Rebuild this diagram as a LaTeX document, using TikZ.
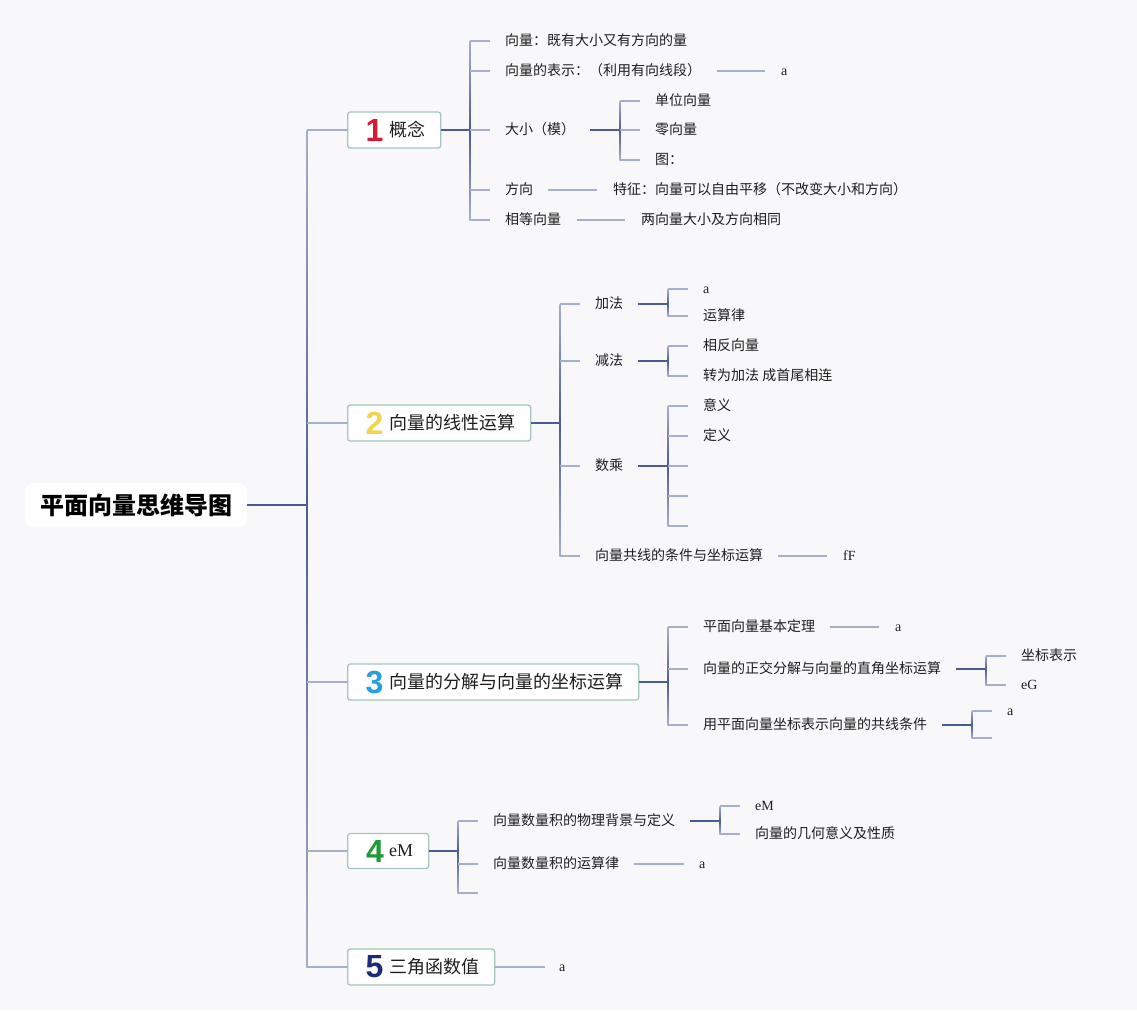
\documentclass[tikz,border=0pt]{standalone}
\usepackage{fontspec}
\setmainfont{Noto Sans CJK SC}
\newfontfamily\latf{Liberation Serif}
\newfontfamily\numf{Liberation Sans}
\definecolor{bgc}{HTML}{F8F8FA}
\definecolor{txt}{HTML}{1E1E1E}
\definecolor{lc}{HTML}{A6AECD}
\definecolor{dc}{HTML}{4B5B95}
\definecolor{bx}{HTML}{A4C6BD}
\definecolor{n1}{HTML}{D51B36}
\definecolor{n2}{HTML}{F2D34E}
\definecolor{n3}{HTML}{2A9FDC}
\definecolor{n4}{HTML}{1F9A36}
\definecolor{n5}{HTML}{1C2A7C}
\newcommand\vgrad[4]{%
  \shade[top color=lc,bottom color=dc] (#1-0.7,#2) rectangle (#1+0.7,#3);
  \shade[top color=dc,bottom color=lc] (#1-0.7,#3) rectangle (#1+0.7,#4);}
\tikzset{
  leaf/.style={anchor=west, inner sep=0pt, text=txt, text height=11pt, text depth=2.5pt,
    font=\fontsize{14}{16}\selectfont},
  lleaf/.style={leaf, font=\latf\fontsize{14}{16}\selectfont},
  topic/.style={draw=bx, fill=white, rounded corners=2.5pt, line width=1.3pt,
    anchor=west, minimum height=36pt, inner sep=0pt},
  tlabel/.style={anchor=west, inner sep=0pt, text=txt, font=\fontsize{18}{20}\selectfont},
  num/.style={inner sep=0pt, font=\numf\bfseries\fontsize{32}{32}\selectfont},
  lt/.style={draw=lc, line width=1.4pt},
  dk/.style={draw=dc, line width=1.6pt},
}
\begin{document}
\begin{tikzpicture}[x=1pt,y=-1pt]
\fill[bgc] (0,0) rectangle (1137,1010);
\useasboundingbox (0,0) rectangle (1137,1010);

% root
\node[fill=white, rounded corners=8pt, minimum width=222pt, minimum height=44pt, inner sep=0pt,
  text=black, font=\bfseries\fontsize{24}{26}\selectfont] (root) at (136,505) {平面向量思维导图};
\coordinate (trunk) at (307,505);
\draw[dk] (root.east) -- (trunk);
\vgrad{307}{130}{505}{967}

% topic boxes
\node[topic, minimum width=93pt]  (t1) at (347,130) {};
\node[topic, minimum width=183pt] (t2) at (347,423) {};
\node[topic, minimum width=291pt] (t3) at (347,682) {};
\node[topic, minimum width=81pt, minimum height=35pt]  (t4) at (347,851) {};
\node[topic, minimum width=147pt] (t5) at (347,967) {};
\node[num, text=n1] (d1) at (374.5,130) {1};
\node[num, text=n2] (d2) at (374.5,423) {2};
\node[num, text=n3] (d3) at (374.5,682) {3};
\node[num, text=n4] (d4) at (375,851) {4};
\node[num, text=n5] (d5) at (374.5,967) {5};
\node[tlabel] (l1) at (389,130) {概念};
\node[tlabel] (l2) at (389,423) {向量的线性运算};
\node[tlabel] (l3) at (389,682) {向量的分解与向量的坐标运算};
\node[tlabel, font=\latf\fontsize{18}{20}\selectfont] (l4) at (389,851) {eM};
\node[tlabel] (l5) at (389,967) {三角函数值};
\foreach \t in {t1,t2,t3,t4,t5} \draw[lt] (trunk |- \t.west) -- (\t.west);

% ---------- section 1
\coordinate (s1) at (470,130);
\draw[dk] (t1.east) -- (s1);
\vgrad{470}{41}{130}{220}
\node[leaf] (a1) at (505,41) {向量：既有大小又有方向的量};
\node[leaf] (a2) at (505,71) {向量的表示：（利用有向线段）};
\node[lleaf] (a2x) at (781,71) {a};
\node[leaf] (a3) at (505,130) {大小（模）};
\node[leaf] (a31) at (655,101) {单位向量};
\node[leaf] (a32) at (655,130) {零向量};
\node[leaf] (a33) at (655,160) {图：};
\node[leaf] (a4) at (505,190) {方向};
\node[leaf] (a4x) at (613,190) {特征：向量可以自由平移（不改变大小和方向）};
\node[leaf] (a5) at (505,220) {相等向量};
\node[leaf] (a5x) at (641,220) {两向量大小及方向相同};
\foreach \c in {a1,a2,a3,a4,a5} \draw[lt] (s1 |- \c.west) -- ([xshift=-15pt]\c.west);
\draw[lt] (717,71) -- ([xshift=-16pt]a2x.west);
\coordinate (s13) at (620,130);
\draw[dk] ([xshift=15pt]a3.east) -- (s13);
\vgrad{620}{101}{130}{160}
\foreach \c in {a31,a32,a33} \draw[lt] (s13 |- \c.west) -- ([xshift=-15pt]\c.west);
\draw[lt] ([xshift=15pt]a4.east) -- ([xshift=-16pt]a4x.west);
\draw[lt] ([xshift=16pt]a5.east) -- ([xshift=-16pt]a5x.west);

% ---------- section 2
\coordinate (s2) at (560,423);
\draw[dk] (t2.east) -- (s2);
\vgrad{560}{304}{423}{556}
\node[leaf] (b1) at (595,304) {加法};
\node[leaf] (b2) at (595,361) {减法};
\node[leaf] (b3) at (595,466) {数乘};
\node[leaf] (b4) at (595,556) {向量共线的条件与坐标运算};
\node[lleaf] (b4x) at (843,556) {fF};
\foreach \c in {b1,b2,b3,b4} \draw[lt] (s2 |- \c.west) -- ([xshift=-15pt]\c.west);
\draw[lt] ([xshift=15pt]b4.east) -- ([xshift=-16pt]b4x.west);
% add
\node[lleaf] (b11) at (703,289) {a};
\node[leaf] (b12) at (703,316) {运算律};
\coordinate (s21) at (668,304);
\draw[dk] ([xshift=15pt]b1.east) -- (s21);
\vgrad{668}{289}{304}{316}
\foreach \c in {b11,b12} \draw[lt] (s21 |- \c.west) -- ([xshift=-15pt]\c.west);
% sub
\node[leaf] (b21) at (703,346) {相反向量};
\node[leaf] (b22) at (703,376) {转为加法 成首尾相连};
\coordinate (s22) at (668,361);
\draw[dk] ([xshift=15pt]b2.east) -- (s22);
\vgrad{668}{346}{361}{376}
\foreach \c in {b21,b22} \draw[lt] (s22 |- \c.west) -- ([xshift=-15pt]\c.west);
% scalar
\node[leaf] (b31) at (703,406) {意义};
\node[leaf] (b32) at (703,436) {定义};
\coordinate (e1) at (703,466);
\coordinate (e2) at (703,496);
\coordinate (e3) at (703,526);
\coordinate (s23) at (668,466);
\draw[dk] ([xshift=15pt]b3.east) -- (s23);
\vgrad{668}{406}{466}{526}
\foreach \c in {b31,b32} \draw[lt] (s23 |- \c.west) -- ([xshift=-15pt]\c.west);
\foreach \c in {e1,e2,e3} \draw[lt] (s23 |- \c) -- ([xshift=-15pt]\c);

% ---------- section 3
\coordinate (s3) at (668,682);
\draw[dk] (t3.east) -- (s3);
\vgrad{668}{627}{682}{725}
\node[leaf] (c1) at (703,627) {平面向量基本定理};
\node[lleaf] (c1x) at (895,627) {a};
\node[leaf] (c2) at (703,669) {向量的正交分解与向量的直角坐标运算};
\node[leaf] (c21) at (1021,656) {坐标表示};
\node[lleaf] (c22) at (1021,685) {eG};
\node[leaf] (c3) at (703,725) {用平面向量坐标表示向量的共线条件};
\node[lleaf] (c31) at (1007,711) {a};
\coordinate (e4) at (1007,738);
\foreach \c in {c1,c2,c3} \draw[lt] (s3 |- \c.west) -- ([xshift=-15pt]\c.west);
\draw[lt] ([xshift=15pt]c1.east) -- ([xshift=-16pt]c1x.west);
\coordinate (s32) at (986,669);
\draw[dk] ([xshift=15pt]c2.east) -- (s32);
\vgrad{986}{656}{669}{685}
\foreach \c in {c21,c22} \draw[lt] (s32 |- \c.west) -- ([xshift=-15pt]\c.west);
\coordinate (s33) at (972,725);
\draw[dk] ([xshift=15pt]c3.east) -- (s33);
\vgrad{972}{711}{725}{738}
\draw[lt] (s33 |- c31.west) -- ([xshift=-15pt]c31.west);
\draw[lt] (s33 |- e4) -- ([xshift=-15pt]e4);

% ---------- section 4
\coordinate (s4) at (458,851);
\draw[dk] (t4.east) -- (s4);
\vgrad{458}{821}{851}{893}
\node[leaf] (g1) at (493,821) {向量数量积的物理背景与定义};
\node[leaf] (g2) at (493,864) {向量数量积的运算律};
\node[lleaf] (g2x) at (699,864) {a};
\coordinate (e5) at (493,893);
\foreach \c in {g1,g2} \draw[lt] (s4 |- \c.west) -- ([xshift=-15pt]\c.west);
\draw[lt] (s4 |- e5) -- ([xshift=-15pt]e5);
\draw[lt] ([xshift=15pt]g2.east) -- ([xshift=-15pt]g2x.west);
\node[lleaf] (g11) at (755,806) {eM};
\node[leaf] (g12) at (755,834) {向量的几何意义及性质};
\coordinate (s41) at (720,821);
\draw[dk] (690,821) -- (s41);
\vgrad{720}{806}{821}{834}
\foreach \c in {g11,g12} \draw[lt] (s41 |- \c.west) -- ([xshift=-15pt]\c.west);

% ---------- section 5
\node[lleaf] (h1) at (559,967) {a};
\draw[lt] (t5.east) -- ([xshift=-14pt]h1.west);
\end{tikzpicture}
\end{document}
